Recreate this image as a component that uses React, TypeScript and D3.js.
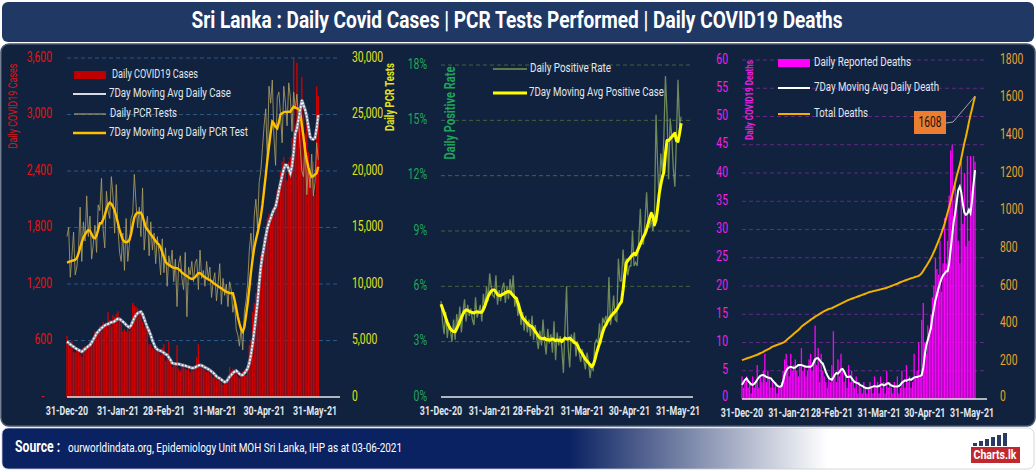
import * as d3 from "d3";

// day index: 0 = 31-Dec-20 ... 153 = 02-Jun-21
const tickDays = [0, 31, 59, 90, 120, 151];
const tickLabels = ["31-Dec-20", "31-Jan-21", "28-Feb-21", "31-Mar-21", "30-Apr-21", "31-May-21"];

const dailyCases = [
  650, 560, 520, 600, 480, 470, 500, 510, 460, 430, 530, 540, 520, 560,
  590, 560, 640, 700, 650, 720, 760, 700, 800, 750, 780, 900, 820, 760,
  870, 850, 880, 910, 820, 780, 700, 720, 690, 760, 700, 780, 1000, 970,
  960, 940, 900, 880, 800, 750, 780, 720, 560, 560, 520, 500, 490, 540,
  480, 450, 520, 560, 380, 410, 590, 400, 320, 350, 360, 550, 300, 280,
  330, 360, 300, 290, 340, 260, 320, 280, 300, 420, 560, 350, 320, 300,
  290, 270, 310, 250, 240, 210, 260, 190, 180, 210, 150, 130, 160, 140,
  230, 320, 280, 300, 250, 260, 220, 200, 240, 270, 290, 230, 380, 550,
  600, 900, 1000, 1100, 1200, 1300, 1500, 1450, 1700, 1800, 1900, 1950, 1900, 2000,
  1950, 2100, 2200, 2250, 2400, 2500, 2550, 2450, 2300, 2500, 2550, 2750, 3600, 2900,
  3550, 3000, 3100, 3400, 3000, 2800, 2950, 2600, 2300, 2450, 2500, 2150, 3300, 3200,
];
const casesAvg = [
  587, 575, 560, 545, 535, 520, 510, 500, 490, 481, 495, 510, 525, 540,
  552, 580, 610, 640, 676, 695, 715, 730, 747, 760, 770, 775, 785, 793,
  795, 805, 820, 830, 828, 815, 800, 785, 765, 750, 740, 760, 800, 840,
  870, 890, 900, 906, 880, 830, 783, 740, 700, 658, 600, 560, 520, 505,
  495, 490, 481, 470, 455, 446, 420, 395, 361, 355, 352, 350, 350, 345,
  340, 335, 333, 325, 320, 315, 308, 308, 315, 325, 333, 340, 335, 325,
  315, 308, 295, 287, 270, 258, 240, 220, 205, 198, 185, 170, 159, 163,
  190, 215, 234, 255, 269, 280, 265, 245, 234, 234, 251, 275, 305, 358,
  446, 560, 700, 850, 1000, 1200, 1384, 1500, 1600, 1703, 1790, 1850, 1898, 1950,
  1990, 2021, 2100, 2190, 2273, 2350, 2420, 2464, 2460, 2420, 2375, 2450, 2600, 2800,
  2850, 2950, 3050, 3154, 3100, 3050, 2977, 2870, 2764, 2740, 2735, 2750, 2850, 2995,
];
const pcrTests = [
  14200, 15000, 10600, 12500, 14600, 10800, 11500, 13000, 16800, 12000, 15500, 13800, 17800, 14200,
  16000, 12200, 13500, 15200, 12800, 17000, 16500, 19350, 14800, 13200, 18200, 16500, 15800, 19500,
  17800, 14500, 18800, 15000, 12800, 12000, 14500, 11200, 15800, 12000, 13500, 15800, 16200, 19700,
  17200, 15000, 16800, 14200, 18500, 13000, 15000, 16000, 12500, 15500, 13000, 14500, 11800, 14200,
  12800, 10800, 14000, 11000, 13200, 9800, 12500, 11500, 13000, 10200, 12200, 8000, 11800, 12500,
  10500, 9500, 12800, 7100, 11500, 10800, 12000, 10200, 11800, 12200, 9500, 13000, 10500, 11200,
  9800, 12000, 10500, 11500, 8800, 10200, 11000, 8500, 10000, 11800, 8200, 10500, 9000, 10000,
  8000, 10200, 9500, 7500, 8500, 6000, 5500, 4500, 6200, 4160, 7500, 8500, 10000, 13000,
  14500, 12000, 16000, 17500, 15000, 19000, 20000, 22000, 24000, 25500, 21000, 27500, 26000, 28050,
  23000, 20500, 26500, 27000, 25000, 22500, 27500, 26000, 24000, 27800, 26500, 23500, 27000, 25500,
  26800, 24500, 22000, 20000, 19500, 22500, 17900, 20500, 18500, 21500, 17800, 19000, 22500, 21000,
];
const pcrAvg = [
  11900, 11950, 12000, 12050, 12100, 12125, 12300, 12700, 13200, 13700, 14100, 14400, 14600, 14780,
  14700, 14400, 14100, 14045, 14300, 14800, 15370, 15370, 15700, 16100, 16600, 17000, 17200, 17100,
  16840, 16500, 16000, 15400, 14800, 14300, 13900, 13745, 13700, 13745, 13900, 14400, 15200, 15900,
  16200, 16310, 16310, 16310, 16000, 15500, 15000, 14800, 14630, 14400, 14200, 14000, 13800, 13600,
  13500, 13200, 12800, 12400, 11975, 11800, 11700, 11600, 11500, 11450, 11400, 11390, 11300, 11200,
  11000, 10900, 10800, 10700, 10600, 10500, 10450, 10500, 10600, 10800, 10950, 10950, 10850, 10700,
  10600, 10500, 10400, 10355, 10250, 10100, 10000, 9900, 9800, 9700, 9620, 9500, 9400, 9300,
  9250, 9200, 9180, 9180, 8600, 7900, 7110, 6500, 6000, 5780, 6200, 7200, 8290, 9600,
  11000, 12200, 13200, 13900, 14500, 15200, 15960, 17000, 18300, 19600, 20975, 22200, 23400, 24365,
  24200, 23900, 23780, 24300, 25000, 25110, 25200, 25250, 25200, 25250, 25250, 25500, 25690, 25600,
  25550, 25500, 25200, 24070, 23000, 21800, 20975, 20300, 19800, 19500, 19550, 19700, 19800, 20380,
];
const positiveRate = [
  5.2, 4.1, 3.4, 4.6, 3.2, 4.0, 3.6, 3.0, 4.2, 3.1, 4.5, 3.8, 4.9, 3.5,
  4.6, 5.3, 4.1, 5.0, 4.4, 4.8, 4.2, 3.9, 5.4, 4.3, 4.6, 5.0, 4.1, 5.6,
  4.8, 6.0, 5.2, 6.7, 6.0, 5.5, 5.4, 6.6, 5.0, 5.8, 5.2, 5.9, 6.2, 5.1,
  6.0, 5.3, 6.4, 5.6, 6.6, 4.9, 5.4, 4.4, 5.1, 3.9, 4.6, 3.6, 4.4, 3.5,
  4.2, 3.3, 4.4, 3.1, 3.9, 3.2, 2.6, 3.6, 2.8, 4.2, 3.0, 2.3, 3.7, 2.9,
  3.4, 2.4, 4.1, 2.0, 3.5, 2.8, 3.3, 2.6, 1.3, 3.8, 6.0, 2.7, 1.6, 3.4,
  2.9, 3.5, 2.2, 3.0, 2.4, 1.9, 2.6, 2.0, 1.5, 2.4, 1.9, 1.03, 1.8, 1.4,
  2.9, 3.1, 2.9, 4.0, 2.9, 4.3, 4.0, 4.4, 3.9, 6.5, 3.9, 4.5, 5.5, 4.2,
  4.1, 7.5, 6.3, 6.3, 8.0, 6.8, 7.5, 6.6, 7.1, 7.1, 9.0, 7.1, 7.3, 7.1,
  8.5, 10.2, 8.3, 8.3, 9.6, 11.1, 9.3, 9.2, 9.6, 9.0, 9.8, 15.3, 12.6, 10.6,
  13.2, 12.2, 14.1, 17.4, 15.4, 11.8, 15.1, 14.2, 12.4, 11.4, 14.0, 17.2, 14.7, 15.2,
];
const positiveAvg = [
  5.03, 4.8, 4.55, 4.3, 4.05, 3.85, 3.7, 3.6, 3.55, 3.54, 3.7, 3.9, 4.1, 4.3,
  4.5, 4.65, 4.72, 4.7, 4.65, 4.6, 4.58, 4.55, 4.6, 4.62, 4.6, 4.59, 4.6, 4.75,
  4.95, 5.2, 5.45, 5.6, 5.75, 5.8, 5.8, 5.7, 5.55, 5.5, 5.5, 5.55, 5.6, 5.65,
  5.7, 5.72, 5.71, 5.6, 5.5, 5.4, 5.35, 5.1, 4.8, 4.5, 4.3, 4.2, 4.1, 4.0,
  3.9, 3.85, 3.81, 3.7, 3.55, 3.45, 3.3, 3.2, 3.18, 3.15, 3.2, 3.1, 3.12, 3.08,
  3.1, 3.15, 3.1, 3.05, 3.1, 3.05, 3.1, 3.0, 3.1, 3.2, 3.15, 3.15, 3.2, 3.1,
  3.05, 2.95, 2.91, 2.8, 2.6, 2.46, 2.35, 2.2, 2.05, 1.95, 1.85, 1.75, 1.64, 1.75,
  2.0, 2.35, 2.64, 2.9, 3.2, 3.5, 3.75, 3.9, 4.08, 4.2, 4.35, 4.45, 4.55, 4.63,
  4.75, 4.9, 5.05, 5.17, 5.8, 6.6, 7.25, 7.4, 7.5, 7.6, 7.7, 7.79, 7.7, 7.9,
  8.1, 8.3, 8.5, 8.69, 8.85, 9.1, 9.4, 9.7, 9.96, 9.8, 9.33, 9.6, 10.2, 11.0,
  11.5, 11.9, 12.2, 13.2, 13.9, 13.9, 14.0, 14.1, 14.2, 14.3, 13.9, 13.85, 14.3, 14.84,
];
const dailyDeaths = [
  4, 2, 3, 4, 2, 3, 1, 4, 2, 3, 6, 2, 4, 3,
  5, 8, 3, 5, 4, 2, 3, 2, 3, 1, 2, 2, 3, 5,
  7, 8, 6, 4, 8, 5, 6, 7, 5, 4, 6, 9, 5, 6,
  4, 5, 7, 8, 5, 7, 13, 6, 9, 3, 8, 5, 4, 3,
  2, 4, 3, 6, 12, 4, 3, 7, 4, 8, 5, 3, 4, 2,
  6, 3, 5, 3, 2, 4, 1, 3, 2, 1, 3, 2, 1, 2,
  3, 2, 1, 4, 2, 3, 1, 4, 2, 3, 1, 5, 2, 3,
  2, 1, 3, 2, 4, 1, 2, 5, 3, 2, 6, 3, 4, 2,
  3, 8, 4, 5, 10, 4, 14, 17, 10, 8, 13, 12, 15, 18,
  20, 25, 23, 22, 28, 19, 24, 32, 24, 28, 36, 44, 45, 30,
  38, 35, 28, 24, 42, 31, 40, 27, 43, 28, 43, 37, 43, 42,
];
const deathsAvg = [
  2.5, 3.0, 3.4, 3.66, 3.2, 2.9, 2.6, 2.5, 2.7, 3.0, 3.4, 3.8, 4.1, 4.2,
  4.25, 4.1, 3.9, 3.8, 3.7, 3.66, 3.3, 3.0, 2.7, 2.4, 2.2, 2.18, 2.3, 3.2,
  4.3, 5.0, 5.4, 5.6, 5.7, 5.6, 5.5, 5.6, 5.8, 6.0, 6.0, 6.0, 5.9, 5.8,
  5.7, 5.7, 5.7, 5.7, 5.9, 6.4, 7.0, 7.2, 7.2, 6.9, 6.5, 6.3, 5.6, 4.8,
  4.2, 3.7, 3.5, 3.4, 3.8, 4.3, 4.6, 4.5, 4.8, 5.2, 5.3, 4.9, 4.3, 3.9,
  3.9, 4.0, 3.7, 3.3, 3.0, 2.9, 2.8, 2.6, 2.4, 2.3, 2.1, 2.0, 1.9, 1.9,
  2.0, 2.1, 2.2, 2.3, 2.2, 2.2, 2.3, 2.5, 2.6, 2.4, 2.5, 2.7, 2.8, 2.6,
  2.4, 2.3, 2.2, 2.2, 2.2, 2.3, 2.5, 2.9, 3.1, 3.3, 3.2, 3.4, 3.5, 3.4,
  3.6, 3.8, 3.9, 3.9, 4.0, 4.1, 4.25, 5.5, 7.8, 9.5, 10.5, 11.5, 12.5, 14.5,
  16.0, 17.5, 18.5, 19.6, 20.5, 21.3, 21.9, 22.2, 22.6, 22.6, 24.0, 26.5, 29.0, 31.4,
  33.0, 35.0, 37.0, 37.6, 36.5, 34.5, 33.0, 32.6, 32.8, 33.5, 32.9, 35.0, 38.0, 40.5,
];
const totalDeaths = [
  207, 209, 212, 215, 218, 220, 223, 226, 229, 232, 235, 239, 243, 246,
  250, 255, 259, 264, 268, 273, 278, 281, 284, 287, 290, 293, 296, 299,
  304, 311, 318, 325, 332, 339, 346, 353, 360, 367, 374, 384, 390, 396,
  402, 408, 414, 420, 426, 431, 437, 442, 447, 452, 457, 462, 467, 471,
  474, 478, 480, 482, 486, 490, 494, 498, 502, 506, 510, 514, 518, 522,
  526, 529, 532, 535, 538, 541, 544, 547, 550, 553, 556, 559, 562, 566,
  568, 570, 572, 574, 576, 578, 580, 582, 584, 586, 588, 591, 594, 597,
  600, 603, 606, 609, 612, 616, 620, 623, 626, 629, 632, 635, 638, 641,
  643, 646, 649, 651, 654, 660, 668, 680, 694, 706, 719, 733, 748, 764,
  782, 800, 820, 840, 860, 882, 906, 930, 960, 990, 1020, 1050, 1083, 1115,
  1150, 1185, 1215, 1243, 1280, 1320, 1360, 1393, 1430, 1470, 1508, 1540, 1575, 1608,
];

const caseTicks = [0, 600, 1200, 1800, 2400, 3000, 3600];
const pcrTicks = [0, 5000, 10000, 15000, 20000, 25000, 30000];
const rateTicks = [0, 3, 6, 9, 12, 15, 18];
const deathTicks = [0, 5, 10, 15, 20, 25, 30, 35, 40, 45, 50, 55, 60];
const totalTicks = [0, 200, 400, 600, 800, 1000, 1200, 1400, 1600, 1800];

const FONT = "Roboto, 'DejaVu Sans', sans-serif";
const LABEL = "#e3e7ee";

// condensed text (source font is a narrow face)
const C = ({ x, y, sx = 0.74, anchor = "start", size = 14, fill = LABEL, weight = 400, children }: any) => (
  <text
    transform={`translate(${x},${y}) scale(${sx},1)`}
    textAnchor={anchor}
    dominantBaseline="middle"
    fontSize={size}
    fill={fill}
    fontWeight={weight}
    fontFamily={FONT}
  >
    {children}
  </text>
);

const Fit = ({ x, y, w, size = 12.5, fill = LABEL, weight = 400, anchor = "start", rotate = false, children }: any) => (
  <text
    transform={rotate ? `translate(${x},${y}) rotate(-90)` : `translate(${x},${y})`}
    textAnchor={anchor}
    dominantBaseline="middle"
    fontSize={size}
    fill={fill}
    fontWeight={weight}
    fontFamily={FONT}
    textLength={w}
    lengthAdjust="spacingAndGlyphs"
  >
    {children}
  </text>
);

const App = () => {
  // left panel
  const xL = d3.scaleLinear().domain([0, 151]).range([67, 315]);
  const yCases = d3.scaleLinear().domain([0, 3600]).range([397, 58]);
  const yPcr = d3.scaleLinear().domain([0, 30000]).range([397, 58]);
  // middle panel
  const xM = d3.scaleLinear().domain([0, 151]).range([441, 678]);
  const yRate = d3.scaleLinear().domain([0, 18]).range([397, 65]);
  // right panel
  const xR = d3.scaleLinear().domain([0, 151]).range([742, 972]);
  const yDeaths = d3.scaleLinear().domain([0, 60]).range([399, 60]);
  const yTotal = d3.scaleLinear().domain([0, 1800]).range([399, 60]);

  const lineOf = (xs: d3.ScaleLinear<number, number>, ys: d3.ScaleLinear<number, number>) =>
    d3.line<number>().x((_, i) => xs(i)).y((d) => ys(d));

  const lastDay = totalDeaths.length - 1;
  const px = xR(lastDay);
  const py = yTotal(totalDeaths[lastDay]);

  return (
    <div style={{ position: "absolute", left: 0, top: 0 }}>
      <svg width={1036} height={472} style={{ display: "block" }}>
        <defs>
          <linearGradient id="foot" x1="0" x2="1" y1="0" y2="0">
            <stop offset="0" stopColor="#0b2262" />
            <stop offset="0.55" stopColor="#0b2262" />
            <stop offset="0.8" stopColor="#ffffff" />
            <stop offset="1" stopColor="#ffffff" />
          </linearGradient>
        </defs>
        <rect width={1036} height={472} fill="#ffffff" />

        {/* title */}
        <rect x={2} y={2} width={1032} height={40} rx={6} fill="#203864" />
        <Fit x={517} y={22} w={651} size={23} weight={700} fill="#ffffff" anchor="middle">
          Sri Lanka : Daily Covid Cases | PCR Tests Performed | Daily COVID19 Deaths
        </Fit>

        {/* main panel */}
        <rect x={1} y={44} width={1034} height={382} rx={8} fill="#10223d" stroke="#46566e" strokeWidth={1.5} />

        {/* ---------- LEFT: cases & PCR ---------- */}
        {caseTicks.map((t) =>
          t === 0 ? null : (
            <line key={"gl" + t} x1={67} x2={340} y1={yCases(t)} y2={yCases(t)} stroke="#2f5f90" strokeDasharray="4,3" strokeWidth={0.9} />
          )
        )}
        {dailyCases.map((v, i) => (
          <rect key={"c" + i} x={xL(i) - 0.65} y={yCases(v)} width={1.3} height={yCases(0) - yCases(v)} fill="#d40000" />
        ))}
        <path d={lineOf(xL, yPcr)(pcrTests) || ""} fill="none" stroke="#a99c63" strokeWidth={1} opacity={0.85} />
        <path d={lineOf(xL, yPcr)(pcrAvg) || ""} fill="none" stroke="#ffc000" strokeWidth={2.4} />
        <path d={lineOf(xL, yCases)(casesAvg) || ""} fill="none" stroke="#8e95a6" strokeWidth={3} />
        <path d={lineOf(xL, yCases)(casesAvg) || ""} fill="none" stroke="#ffffff" strokeWidth={1.5} strokeDasharray="2,1.5" />
        <line x1={67} x2={340} y1={397} y2={397} stroke="#e6e6e6" strokeWidth={1.5} />

        {caseTicks.map((t) => (
          <C key={"yl" + t} x={t === 0 ? 44 : 52} y={yCases(t)} anchor="end" fill="#ee1111" size={14}>
            {t === 0 ? "-" : d3.format(",")(t)}
          </C>
        ))}
        {pcrTicks.map((t) => (
          <C key={"yr" + t} x={352} y={yPcr(t)} fill="#e2e21a" size={14}>
            {d3.format(",")(t)}
          </C>
        ))}
        <Fit x={14} y={106} w={85} size={12.5} fill="#d81a1a" rotate anchor="middle">Daily COVID19 Cases</Fit>
        <Fit x={391} y={97} w={68} size={12.5} weight={700} fill="#e2e21a" rotate anchor="middle">Daily PCR Tests</Fit>
        {tickDays.map((d, i) => (
          <C key={"xl" + d} x={xL(d)} y={412} anchor="middle" size={13} weight={700} sx={0.68}>
            {tickLabels[i]}
          </C>
        ))}

        {/* left legend */}
        <rect x={74} y={71} width={32} height={8} fill="#c00000" />
        <Fit x={112} y={75} w={86}>Daily COVID19 Cases</Fit>
        <line x1={73} x2={106} y1={94} y2={94} stroke="#d8dbe3" strokeWidth={2} />
        <Fit x={109} y={94} w={122}>7Day Moving Avg Daily Case</Fit>
        <line x1={74} x2={106} y1={114} y2={114} stroke="#a99c63" strokeWidth={1.2} />
        <Fit x={110} y={114} w={67}>Daily PCR Tests</Fit>
        <line x1={73} x2={106} y1={133} y2={133} stroke="#ffc000" strokeWidth={2.4} />
        <Fit x={109} y={133} w={139}>7Day Moving Avg Daily PCR Test</Fit>

        {/* ---------- MIDDLE: positive rate ---------- */}
        {rateTicks.map((t) =>
          t === 0 ? null : (
            <line key={"gm" + t} x1={441} x2={693} y1={yRate(t)} y2={yRate(t)} stroke="#4c6b3c" strokeDasharray="4,3" strokeWidth={0.9} />
          )
        )}
        <path d={lineOf(xM, yRate)(positiveRate) || ""} fill="none" stroke="#7f9c62" strokeWidth={1.3} opacity={0.85} />
        <path d={lineOf(xM, yRate)(positiveAvg) || ""} fill="none" stroke="#ffff00" strokeWidth={3} strokeLinejoin="round" />
        <line x1={441} x2={693} y1={397} y2={397} stroke="#e6e6e6" strokeWidth={1.5} />
        {rateTicks.map((t) => (
          <C key={"ml" + t} x={427} y={yRate(t)} anchor="end" fill="#22a85c" size={14}>
            {t + "%"}
          </C>
        ))}
        <Fit x={451} y={113} w={93} size={14} weight={700} fill="#1fa35a" rotate anchor="middle">Daily Positive Rate</Fit>
        {tickDays.map((d, i) => (
          <C key={"xm" + d} x={xM(d)} y={412} anchor="middle" size={13} weight={700} sx={0.68}>
            {tickLabels[i]}
          </C>
        ))}
        <line x1={493} x2={527} y1={69} y2={69} stroke="#5b7a48" strokeWidth={2} />
        <Fit x={530} y={69} w={81}>Daily Positive Rate</Fit>
        <line x1={493} x2={527} y1={93} y2={93} stroke="#ffff00" strokeWidth={3} />
        <Fit x={529} y={93} w={135}>7Day Moving Avg Positive Case</Fit>

        {/* ---------- RIGHT: deaths ---------- */}
        {deathTicks.map((t) =>
          t === 0 ? null : (
            <line key={"gr" + t} x1={742} x2={987} y1={yDeaths(t)} y2={yDeaths(t)} stroke="#6b2a90" strokeDasharray="4,3" strokeWidth={0.9} />
          )
        )}
        {dailyDeaths.map((v, i) => (
          <rect key={"dd" + i} x={xR(i) - 0.65} y={yDeaths(v)} width={1.3} height={yDeaths(0) - yDeaths(v)} fill="#ff00ff" />
        ))}
        <path d={lineOf(xR, yTotal)(totalDeaths) || ""} fill="none" stroke="#f2b000" strokeWidth={2} />
        <path d={lineOf(xR, yDeaths)(deathsAvg) || ""} fill="none" stroke="#ffffff" strokeWidth={2} />
        <line x1={742} x2={987} y1={399} y2={399} stroke="#e6e6e6" strokeWidth={1.5} />
        {deathTicks.map((t) => (
          <C key={"dl" + t} x={728} y={t === 0 ? yDeaths(t) - 2 : yDeaths(t)} anchor="end" fill="#f020f0" size={14}>
            {t}
          </C>
        ))}
        {totalTicks.map((t) => (
          <C key={"tl" + t} x={1000} y={t === 0 ? yTotal(t) - 2 : yTotal(t)} fill="#eea22e" size={14}>
            {t}
          </C>
        ))}
        <Fit x={750} y={100} w={80} size={11} weight={700} fill="#e81ee8" rotate anchor="middle">Daily COVID19 Deaths</Fit>
        {tickDays.map((d, i) => (
          <C key={"xr" + d} x={xR(d)} y={414} anchor="middle" size={13} weight={700} sx={0.68}>
            {tickLabels[i]}
          </C>
        ))}
        <rect x={778} y={59} width={32} height={8} fill="#ff00ff" />
        <Fit x={814} y={63} w={97}>Daily Reported Deaths</Fit>
        <line x1={778} x2={810} y1={88} y2={88} stroke="#ffffff" strokeWidth={2} />
        <Fit x={814} y={88} w={125}>7Day Moving Avg Daily Death</Fit>
        <line x1={778} x2={810} y1={114} y2={114} stroke="#f2b000" strokeWidth={2} />
        <Fit x={814} y={114} w={54}>Total Deaths</Fit>

        {/* annotation */}
        <polyline points={`946,123 953,122 ${px},${py}`} fill="none" stroke="#a6a6a6" strokeWidth={1} />
        <rect x={914} y={111} width={32} height={23} fill="#ed7d31" />
        <Fit x={930} y={123} w={23} size={15} fill="#111111" anchor="middle">{String(totalDeaths[lastDay])}</Fit>

        {/* footer */}
        <rect x={2} y={428} width={1032} height={41} rx={6} fill="url(#foot)" stroke="#c8ccd4" strokeWidth={0.8} />
        <C x={15} y={448} sx={0.72} size={17} weight={700} fill="#ffffff">Source :</C>
        <Fit x={68} y={449} w={334} size={12} fill="#ffffff">
          ourworldindata.org, Epidemiology Unit MOH Sri Lanka, IHP  as at 03-06-2021
        </Fit>
        {/* logo */}
        {[0, 1, 2, 3, 4, 5].map((k) => (
          <rect key={"lg" + k} x={973 + k * 6} y={446 - (3 + k * 2)} width={4} height={3 + k * 2} fill="#2a3a66" />
        ))}
        <rect x={971} y={447} width={49} height={16} fill="#c0282d" />
        <Fit x={995} y={455.5} w={43} size={12} weight={700} fill="#ffffff" anchor="middle">Charts.lk</Fit>
      </svg>
    </div>
  );
};

export default App;
